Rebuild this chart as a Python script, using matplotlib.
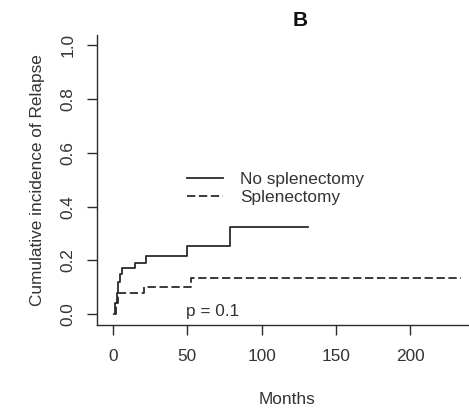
import matplotlib
matplotlib.use('Agg')
from matplotlib import pyplot as plt

# cumulative incidence step curves (months, probability)
no_splen_t = [0.7, 1.5, 2.5, 3.5, 4.5, 6.0, 15.0, 22.5, 50.0, 78.5, 131.0]
no_splen_y = [0.0, 0.04, 0.08, 0.12, 0.15, 0.171, 0.19, 0.217, 0.254, 0.325, 0.325]

splen_t = [1.0, 1.8, 3.0, 21.0, 52.5, 234.0]
splen_y = [0.0, 0.04, 0.077, 0.102, 0.133, 0.133]

x_ticks = [0, 50, 100, 150, 200]
y_ticks = [0.0, 0.2, 0.4, 0.6, 0.8, 1.0]
p_text = 'p = 0.1'

plt.rcParams['font.family'] = ['Liberation Sans', 'DejaVu Sans']
txt = '#333333'
ln = '#2b2b2b'
fs = 12.4

fig = plt.figure(figsize=(4.69, 4.11), dpi=100)
# axes placed in pixel terms: left 97, right 477, top 35, bottom 325
W, H = 469.0, 411.0
ax = fig.add_axes([97 / W, (H - 325) / H, (477 - 97) / W, (325 - 35) / H])

ax.step(no_splen_t, no_splen_y, where='post', color=ln, lw=1.3, label='No splenectomy')
ax.step(splen_t, splen_y, where='post', color=ln, lw=1.3, dashes=(4.6, 2.0), label='Splenectomy')

ax.set_xlim(-10.8, 245)
ax.set_ylim(-0.041, 1.039)
ax.set_xticks(x_ticks)
ax.set_yticks(y_ticks)
ax.set_yticklabels(['%.1f' % v for v in y_ticks], rotation=90, va='center')

for s in ['top', 'right']:
    ax.spines[s].set_visible(False)
for s in ['left', 'bottom']:
    ax.spines[s].set_color(ln)
    ax.spines[s].set_linewidth(1.0)

ax.tick_params(axis='x', length=7.5, width=1.0, color=ln, pad=10, labelsize=fs, labelcolor=txt)
ax.tick_params(axis='y', length=7.5, width=1.0, color=ln, pad=8, labelsize=fs, labelcolor=txt)

ax.set_xlabel('Months', fontsize=fs, color=txt, labelpad=20)
ax.set_ylabel('Cumulative incidence of Relapse', fontsize=fs, color=txt, labelpad=11)

fig.text(300 / W, 1 - 20 / H, 'B', fontsize=15, fontweight='bold', ha='center', va='center', color='#111111')

ax.text(0.235, 0.032, p_text, transform=ax.transAxes, fontsize=fs, color=txt)

ax.legend(loc='upper left', bbox_to_anchor=(0.195, 0.58), frameon=False, fontsize=fs,
          handlelength=2.1, handletextpad=1.0, labelspacing=0.15, labelcolor=txt)

plt.savefig('out.png', dpi=100)
